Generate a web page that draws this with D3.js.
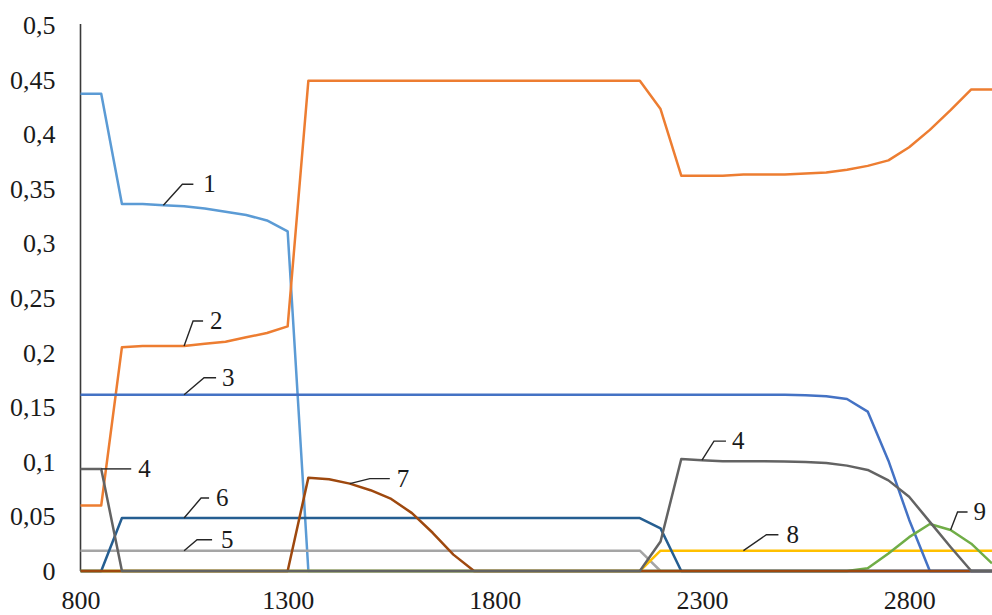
<!DOCTYPE html>
<html>
<head>
<meta charset="utf-8">
<script src="https://cdn.jsdelivr.net/npm/d3@7"></script>
<style>
  html, body { margin: 0; padding: 0; background: #fff; }
  svg { display: block; }
</style>
</head>
<body>
<svg id="chart" width="992" height="615"></svg>
<script>
// Temperature grid, step 50
const xValues = d3.range(800, 3001, 50);

const xTicks = [800, 1300, 1800, 2300, 2800];
const yTicks = [0, 0.05, 0.1, 0.15, 0.2, 0.25, 0.3, 0.35, 0.4, 0.45, 0.5];

// Phase fractions, one value per grid point (800 … 3000)
const s1 = [0.437, 0.437, 0.336, 0.336, 0.335, 0.334, 0.332, 0.329, 0.326, 0.321, 0.311,
  0, 0, 0, 0, 0, 0, 0, 0, 0, 0, 0, 0, 0, 0, 0, 0, 0, 0, 0, 0, 0, 0, 0, 0, 0, 0, 0, 0, 0, 0, 0, 0, 0, 0];
const s2 = [0.06, 0.06, 0.205, 0.206, 0.206, 0.206, 0.208, 0.210, 0.214, 0.218, 0.224,
  0.449, 0.449, 0.449, 0.449, 0.449, 0.449, 0.449, 0.449, 0.449, 0.449, 0.449, 0.449, 0.449, 0.449, 0.449, 0.449, 0.449,
  0.423, 0.362, 0.362, 0.362, 0.363, 0.363, 0.363, 0.364, 0.365, 0.3675, 0.371, 0.376, 0.388, 0.404, 0.422, 0.441, 0.441];
const s3 = [0.1614, 0.1614, 0.1614, 0.1614, 0.1614, 0.1614, 0.1614, 0.1614, 0.1614, 0.1614, 0.1614,
  0.1614, 0.1614, 0.1614, 0.1614, 0.1614, 0.1614, 0.1614, 0.1614, 0.1614, 0.1614, 0.1614, 0.1614, 0.1614, 0.1614,
  0.1614, 0.1614, 0.1614, 0.1614, 0.1614, 0.1614, 0.1614, 0.1614, 0.1614, 0.1614, 0.161, 0.160, 0.1575, 0.146,
  0.101, 0.047, 0, 0, 0, 0];
const s4 = [0.0935, 0.0935, 0, 0, 0, 0, 0, 0, 0, 0, 0, 0, 0, 0, 0, 0, 0, 0, 0, 0, 0, 0, 0, 0, 0, 0, 0, 0,
  0.027, 0.1025, 0.1015, 0.1005, 0.1005, 0.1005, 0.1003, 0.0998, 0.099, 0.0965, 0.0925, 0.083, 0.068, 0.045, 0.022, 0, 0];
const s5 = [0.0186, 0.0186, 0.0186, 0.0186, 0.0186, 0.0186, 0.0186, 0.0186, 0.0186, 0.0186, 0.0186,
  0.0186, 0.0186, 0.0186, 0.0186, 0.0186, 0.0186, 0.0186, 0.0186, 0.0186, 0.0186, 0.0186, 0.0186, 0.0186, 0.0186,
  0.0186, 0.0186, 0.0186, 0, 0, 0, 0, 0, 0, 0, 0, 0, 0, 0, 0, 0, 0, 0, 0, 0];
const s6 = [0, 0, 0.0485, 0.0485, 0.0485, 0.0485, 0.0485, 0.0485, 0.0485, 0.0485, 0.0485,
  0.0485, 0.0485, 0.0485, 0.0485, 0.0485, 0.0485, 0.0485, 0.0485, 0.0485, 0.0485, 0.0485, 0.0485, 0.0485, 0.0485,
  0.0485, 0.0485, 0.0485, 0.039, 0, 0, 0, 0, 0, 0, 0, 0, 0, 0, 0, 0, 0, 0, 0, 0];
const s7 = [0, 0, 0, 0, 0, 0, 0, 0, 0, 0, 0,
  0.0855, 0.084, 0.080, 0.074, 0.066, 0.053, 0.035, 0.015, 0,
  0, 0, 0, 0, 0, 0, 0, 0, 0, 0, 0, 0, 0, 0, 0, 0, 0, 0, 0, 0, 0, 0, 0, 0, 0];
const s8 = [0, 0, 0, 0, 0, 0, 0, 0, 0, 0, 0, 0, 0, 0, 0, 0, 0, 0, 0, 0, 0, 0, 0, 0, 0, 0, 0, 0,
  0.0186, 0.0186, 0.0186, 0.0186, 0.0186, 0.0186, 0.0186, 0.0186, 0.0186, 0.0186, 0.0186, 0.0186,
  0.0186, 0.0186, 0.0186, 0.0186, 0.0186];
const s9 = [0, 0, 0, 0, 0, 0, 0, 0, 0, 0, 0, 0, 0, 0, 0, 0, 0, 0, 0, 0, 0, 0, 0, 0, 0, 0, 0, 0, 0, 0,
  0, 0, 0, 0, 0, 0, 0, 0, 0.0025, 0.016, 0.031, 0.043, 0.0375, 0.025, 0.007];

// Drawing order (later series sit on top)
const seriesList = [
  { id: "1", values: s1, color: "#5B9BD5" },
  { id: "2", values: s2, color: "#ED7D31" },
  { id: "5", values: s5, color: "#A5A5A5" },
  { id: "8", values: s8, color: "#FFC000" },
  { id: "3", values: s3, color: "#4472C4" },
  { id: "9", values: s9, color: "#70AD47" },
  { id: "6", values: s6, color: "#255E91" },
  { id: "7", values: s7, color: "#9E480E" },
  { id: "4", values: s4, color: "#636363" }
];

// Callouts: series, anchor x, elbow offset, end of shelf, text offset
const callouts = [
  { text: "1", series: "1", at: 1000, ex: 19, ey: -21, hx: 30, tx: 40 },
  { text: "2", series: "2", at: 1050, ex: 9,  ey: -25, hx: 19, tx: 26 },
  { text: "3", series: "3", at: 1050, ex: 20, ey: -17, hx: 32, tx: 38 },
  { text: "4", series: "4", at: 850,  ex: 15, ey: 0,   hx: 30, tx: 37 },
  { text: "5", series: "5", at: 1050, ex: 13, ey: -11, hx: 28, tx: 37 },
  { text: "6", series: "6", at: 1050, ex: 17, ey: -20, hx: 25, tx: 32 },
  { text: "7", series: "7", at: 1450, ex: 20, ey: -5,  hx: 40, tx: 47 },
  { text: "4", series: "4", at: 2300, ex: 12, ey: -19, hx: 24, tx: 30 },
  { text: "8", series: "8", at: 2400, ex: 23, ey: -16, hx: 35, tx: 43 },
  { text: "9", series: "9", at: 2900, ex: 7,  ey: -18, hx: 17, tx: 23 }
];

const svg = d3.select("#chart");
const fontFamily = "'Liberation Serif', 'Times New Roman', serif";

const x = d3.scaleLinear().domain([800, 3000]).range([80.5, 992]);
const y = d3.scaleLinear().domain([0, 0.5]).range([571, 25]);

const fmt = v => d3.format("~g")(+v.toFixed(2)).replace(".", ",");

// Series lines
const line = d3.line()
  .x((d, i) => x(xValues[i]))
  .y(d => y(d));

const linesG = svg.append("g");
linesG.selectAll("path")
  .data(seriesList)
  .join("path")
  .attr("d", s => line(s.values))
  .attr("fill", "none")
  .attr("stroke", s => s.color)
  .attr("stroke-width", 2.5)
  .attr("stroke-linejoin", "round");

// Axes
const yAxis = svg.append("g")
  .attr("transform", `translate(${x(800)},0)`)
  .call(d3.axisLeft(y).tickValues(yTicks).tickFormat(fmt).tickSize(0).tickPadding(25));
yAxis.select(".domain").attr("stroke", "#3a3a3a").attr("stroke-width", 1.6).attr("d", `M0,${y(0)}V${y(0.5) - 1}`);
yAxis.selectAll("text")
  .attr("font-family", fontFamily)
  .attr("font-size", 26)
  .attr("fill", "#1a1a1a")
  .attr("dy", "0.33em");

const xAxis = svg.append("g")
  .attr("transform", `translate(0,${y(0)})`)
  .call(d3.axisBottom(x).tickValues(xTicks).tickFormat(d3.format("d")).tickSize(0).tickPadding(20));
xAxis.select(".domain").attr("stroke", "#3a3a3a").attr("stroke-width", 1.6);
xAxis.selectAll("text")
  .attr("font-family", fontFamily)
  .attr("font-size", 26)
  .attr("fill", "#1a1a1a");

// Keep the series baseline on top of the axis line
linesG.raise();

// Callout leaders and numbers
const byId = Object.fromEntries(seriesList.map(s => [s.id, s]));
const cg = svg.append("g");
callouts.forEach(c => {
  const s = byId[c.series];
  const i = xValues.indexOf(c.at);
  const px = x(c.at), py = y(s.values[i]);
  cg.append("path")
    .attr("d", `M${px},${py}L${px + c.ex},${py + c.ey}L${px + c.hx},${py + c.ey}`)
    .attr("fill", "none")
    .attr("stroke", "#262626")
    .attr("stroke-width", 1.4);
  cg.append("text")
    .attr("x", px + c.tx)
    .attr("y", py + c.ey)
    .attr("dy", "0.33em")
    .attr("font-family", fontFamily)
    .attr("font-size", 25)
    .attr("fill", "#1a1a1a")
    .text(c.text);
});
</script>
</body>
</html>
